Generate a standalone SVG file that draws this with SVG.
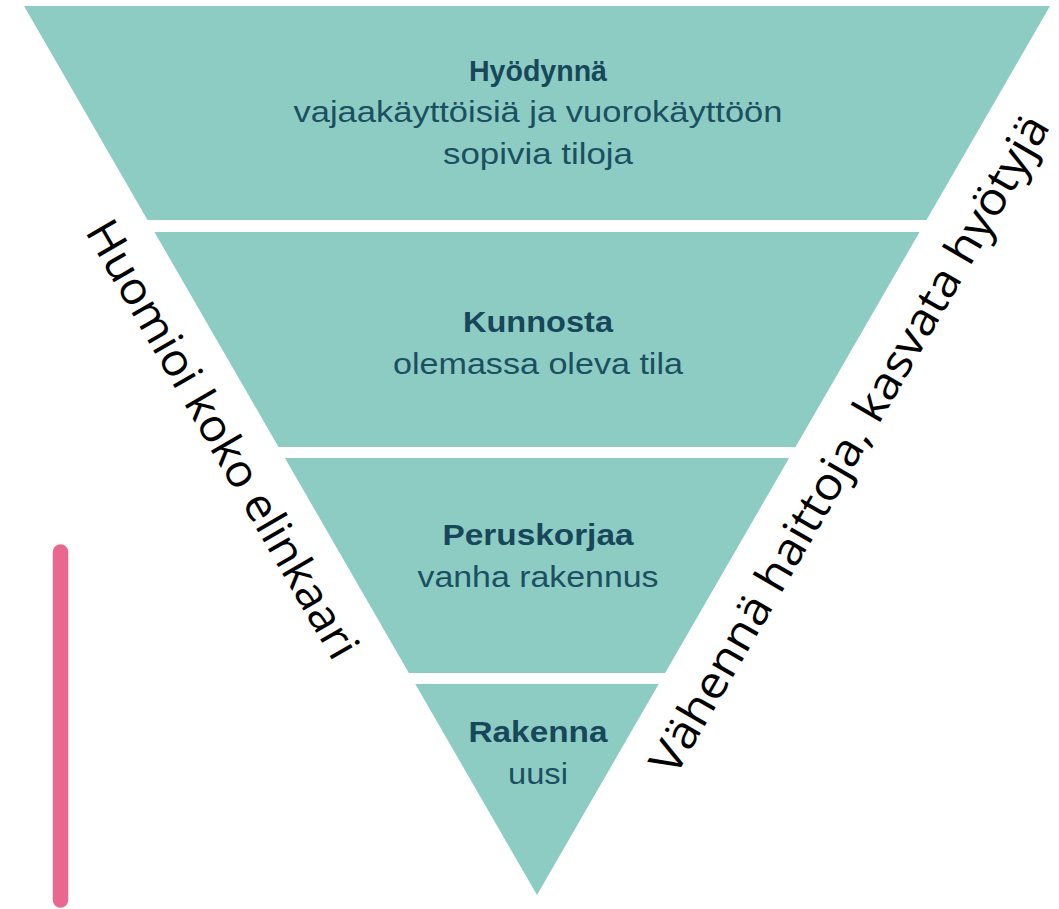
<svg xmlns="http://www.w3.org/2000/svg" width="1059" height="909" viewBox="0 0 1059 909">
  <style>
    .band { fill: #8dccc2; }
    .head { font-family: "Liberation Sans", Arial, sans-serif; font-weight: bold; font-size: 29px; fill: #17475a; text-anchor: middle; }
    .body { font-family: "Liberation Sans", Arial, sans-serif; font-size: 29.5px; fill: #1b4f62; text-anchor: middle; }
    .side { font-family: "Open Sans", "Noto Sans", sans-serif; font-size: 45px; fill: #000000; text-anchor: middle; }
  </style>
  <rect width="1059" height="909" fill="#ffffff"/>

  <!-- Level 1: top band of the inverted pyramid -->
  <g id="level-hyodynna">
    <polygon class="band" points="24,6 1050,6 926.5,220 147.5,220"/>
    <text class="head" x="538" y="81" textLength="138" lengthAdjust="spacingAndGlyphs">Hyödynnä</text>
    <text class="body" x="538" y="122" textLength="489" lengthAdjust="spacingAndGlyphs">vajaakäyttöisiä ja vuorokäyttöön</text>
    <text class="body" x="538" y="164" textLength="190" lengthAdjust="spacingAndGlyphs">sopivia tiloja</text>
  </g>

  <!-- Level 2 -->
  <g id="level-kunnosta">
    <polygon class="band" points="154.4,232 919.6,232 795.5,447 278.5,447"/>
    <text class="head" x="538" y="332" textLength="150" lengthAdjust="spacingAndGlyphs">Kunnosta</text>
    <text class="body" x="538" y="374" textLength="290" lengthAdjust="spacingAndGlyphs">olemassa oleva tila</text>
  </g>

  <!-- Level 3 -->
  <g id="level-peruskorjaa">
    <polygon class="band" points="284.9,458 789.1,458 665.1,673 408.9,673"/>
    <text class="head" x="538" y="545" textLength="191" lengthAdjust="spacingAndGlyphs">Peruskorjaa</text>
    <text class="body" x="538" y="587" textLength="241" lengthAdjust="spacingAndGlyphs">vanha rakennus</text>
  </g>

  <!-- Level 4: tip -->
  <g id="level-rakenna">
    <polygon class="band" points="415.3,684 658.7,684 537,895"/>
    <text class="head" x="538" y="742" textLength="139" lengthAdjust="spacingAndGlyphs">Rakenna</text>
    <text class="body" x="538" y="784" textLength="60" lengthAdjust="spacingAndGlyphs">uusi</text>
  </g>

  <!-- Side captions running along the slanted edges -->
  <g id="caption-left">
    <text class="side" transform="translate(209,447) rotate(60)" textLength="498" lengthAdjust="spacingAndGlyphs">Huomioi koko elinkaari</text>
  </g>
  <g id="caption-right">
    <text class="side" transform="translate(863,452) rotate(-60)" textLength="752" lengthAdjust="spacingAndGlyphs">Vähennä haittoja, kasvata hyötyjä</text>
  </g>

  <!-- Pink vertical bar, lower left -->
  <g id="accent-bar">
    <line x1="60.5" y1="552" x2="60.5" y2="900" stroke="#ea6890" stroke-width="15.5" stroke-linecap="round"/>
  </g>
</svg>
